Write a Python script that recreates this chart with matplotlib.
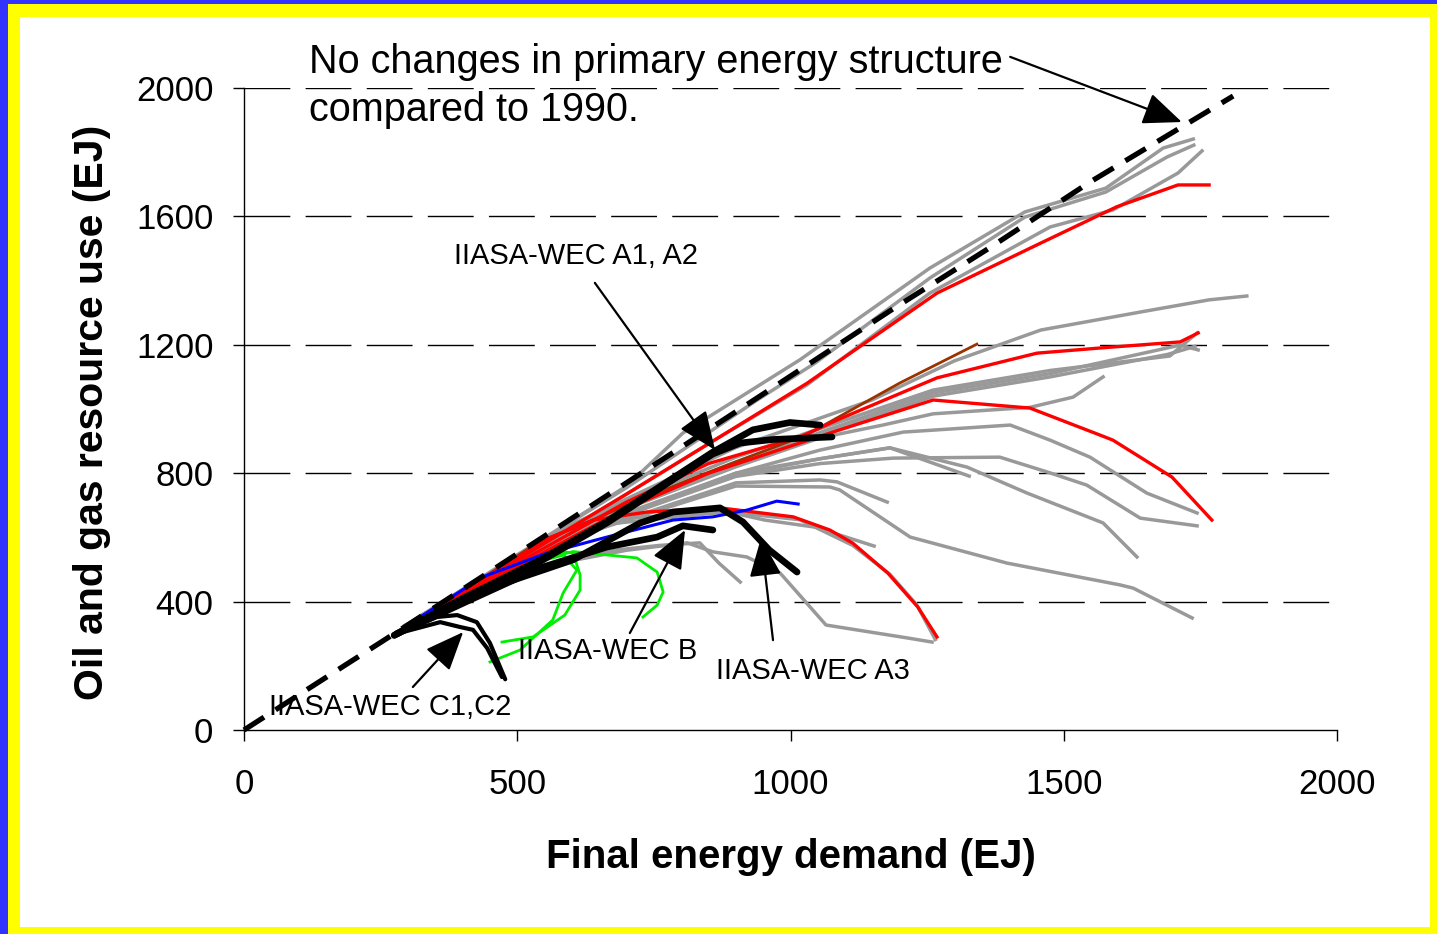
import matplotlib
matplotlib.use('Agg')
import matplotlib.pyplot as plt
from matplotlib.patches import Rectangle

plt.rcParams['font.family'] = ['Liberation Sans', 'DejaVu Sans']

# ---------------- data (EJ) ----------------
x_ticks = [0, 500, 1000, 1500, 2000]
y_ticks = [0, 400, 800, 1200, 1600, 2000]

# reference: no change in primary energy structure
ref_x = [0, 295, 953, 1184, 1367, 1548, 1810]
ref_y = [0, 322, 1050, 1308, 1505, 1707, 1975]

# IIASA-WEC scenarios (black)
a1_x = [275, 400, 542, 664, 785, 858, 931, 999, 1054]
a1_y = [295, 410, 530, 650, 785, 866, 935, 958, 950]
a2_x = [275, 400, 542, 664, 785, 858, 908, 968, 1076]
a2_y = [295, 408, 525, 645, 780, 860, 894, 905, 913]
a3_x = [280, 420, 602, 725, 785, 871, 913, 961, 1012]
a3_y = [300, 425, 530, 645, 679, 692, 648, 561, 492]
b_x = [280, 420, 542, 664, 756, 803, 858]
b_y = [300, 410, 505, 570, 601, 636, 623]
c1_x = [275, 353, 390, 426, 450, 478]
c1_y = [298, 352, 358, 336, 271, 158]
c2_x = [275, 359, 395, 419, 445, 472]
c2_y = [298, 336, 321, 312, 255, 165]

# green scenarios
g1_x = [300, 450, 542, 587, 602, 615, 615, 587, 529, 472]
g1_y = [325, 452, 530, 555, 551, 483, 436, 358, 290, 274]
g2_x = [300, 450, 540, 585, 609, 584, 565, 505, 450]
g2_y = [325, 448, 525, 545, 498, 427, 343, 249, 212]
g3_x = [300, 450, 540, 602, 719, 756, 767, 756, 730]
g3_y = [325, 450, 528, 556, 536, 492, 430, 389, 352]

# blue scenario
blue_x = [295, 437, 554, 664, 785, 858, 920, 975, 1014]
blue_y = [322, 477, 551, 601, 654, 664, 685, 713, 704]

# brown scenario
brown_x = [300, 530, 700, 830, 1030, 1200, 1341]
brown_y = [325, 575, 700, 790, 920, 1081, 1202]

# red scenarios
r1_x = [295, 500, 700, 858, 1030, 1268, 1458, 1597, 1709, 1766]
r1_y = [322, 530, 735, 900, 1080, 1361, 1517, 1630, 1698, 1698]
r2_x = [295, 500, 700, 850, 1017, 1090, 1268, 1451, 1566, 1713, 1746]
r2_y = [322, 520, 710, 830, 913, 969, 1097, 1174, 1190, 1209, 1237]
r3_x = [295, 500, 700, 850, 1017, 1090, 1261, 1438, 1566, 1590, 1698, 1771]
r3_y = [322, 510, 690, 800, 894, 935, 1028, 1003, 919, 903, 788, 654]
r4_x = [295, 440, 560, 639, 737, 871, 1005, 1072, 1114, 1178, 1233, 1268]
r4_y = [322, 475, 600, 654, 679, 692, 664, 623, 582, 489, 383, 290]

# other scenarios (grey)
gy01_x = [295, 500, 700, 803, 1017, 1255, 1429, 1577, 1682, 1737]
gy01_y = [325, 545, 760, 925, 1153, 1439, 1614, 1688, 1813, 1841]
gy02_x = [295, 500, 700, 939, 1045, 1255, 1429, 1577, 1689, 1738]
gy02_y = [325, 545, 755, 1028, 1143, 1408, 1598, 1676, 1785, 1822]
gy03_x = [295, 500, 700, 858, 1030, 1255, 1475, 1590, 1709, 1753]
gy03_y = [322, 530, 735, 900, 1075, 1361, 1567, 1620, 1735, 1804]
gy04_x = [295, 600, 900, 1149, 1300, 1458, 1640, 1766, 1835]
gy04_y = [325, 640, 880, 1028, 1150, 1246, 1302, 1340, 1352]
gy05_x = [295, 600, 900, 1261, 1475, 1694, 1744]
gy05_y = [325, 640, 850, 1059, 1120, 1165, 1237]
gy06_x = [295, 600, 900, 1261, 1475, 1713, 1746]
gy06_y = [325, 632, 835, 1050, 1110, 1199, 1184]
gy07_x = [295, 600, 900, 1261, 1475, 1690, 1740]
gy07_y = [325, 625, 825, 1040, 1100, 1170, 1195]
gy08_x = [295, 600, 900, 1054, 1169, 1261, 1438, 1517, 1572]
gy08_y = [325, 625, 820, 910, 950, 985, 1005, 1037, 1100]
gy09_x = [295, 600, 900, 1054, 1206, 1402, 1475, 1548, 1652, 1744]
gy09_y = [325, 615, 800, 872, 928, 950, 903, 850, 738, 676]
gy10_x = [295, 600, 900, 1054, 1188, 1383, 1475, 1542, 1640, 1744]
gy10_y = [325, 610, 790, 830, 847, 850, 801, 763, 660, 636]
gy11_x = [295, 600, 900, 1054, 1182, 1323, 1433, 1572, 1603, 1634]
gy11_y = [325, 610, 800, 845, 879, 819, 738, 645, 592, 539]
gy12_x = [295, 600, 900, 1054, 1182, 1327]
gy12_y = [325, 608, 795, 845, 879, 791]
gy13_x = [295, 600, 900, 1054, 1085, 1177]
gy13_y = [325, 600, 770, 779, 773, 710]
gy14_x = [295, 600, 900, 1072, 1090, 1219, 1396, 1603, 1627, 1735]
gy14_y = [325, 600, 760, 757, 748, 601, 520, 452, 442, 349]
gy15_x = [295, 500, 700, 811, 858, 920, 981, 1065, 1213, 1259]
gy15_y = [325, 495, 560, 583, 555, 539, 489, 327, 287, 274]
gy16_x = [295, 500, 650, 760, 834, 869, 908]
gy16_y = [325, 490, 555, 575, 583, 520, 461]
gy17_x = [295, 500, 700, 884, 953, 1045, 1153]
gy17_y = [325, 520, 660, 680, 654, 632, 573]
gy18_x = [295, 600, 884, 1017, 1114, 1182, 1231, 1265]
gy18_y = [325, 630, 680, 655, 575, 485, 390, 282]

ref_label = ["No changes in primary energy structure", "compared to 1990."]
scen_labels = ["IIASA-WEC A1, A2", "IIASA-WEC B", "IIASA-WEC A3", "IIASA-WEC C1,C2"]
x_label = "Final energy demand (EJ)"
y_label = "Oil and gas resource use (EJ)"

# ---------------- figure ----------------
W, H = 1437, 934
fig = plt.figure(figsize=(W / 100, H / 100), dpi=100)
fig.patch.set_facecolor('#3333FF')
fig.add_artist(Rectangle((8 / W, 0), 1 - 8 / W, 930 / H, transform=fig.transFigure,
                         facecolor='#FFFF00', edgecolor='none', zorder=-3))
fig.add_artist(Rectangle((20 / W, 7 / H), 1410 / W, 910 / H, transform=fig.transFigure,
                         facecolor='white', edgecolor='none', zorder=-2))

ax = fig.add_axes([244 / W, 1 - 730 / H, (1337 - 244) / W, (730 - 88) / H])
ax.set_facecolor('none')
ax.set_xlim(0, 2000)
ax.set_ylim(0, 2000)

for y in y_ticks[1:]:
    ax.axhline(y, color='black', lw=1.0, ls=(0, (33, 11)), zorder=1)

grey = '#999999'
greys = [(gy01_x, gy01_y), (gy02_x, gy02_y), (gy03_x, gy03_y), (gy04_x, gy04_y),
         (gy05_x, gy05_y), (gy06_x, gy06_y), (gy07_x, gy07_y), (gy08_x, gy08_y),
         (gy09_x, gy09_y), (gy10_x, gy10_y), (gy11_x, gy11_y), (gy12_x, gy12_y),
         (gy13_x, gy13_y), (gy14_x, gy14_y), (gy15_x, gy15_y), (gy16_x, gy16_y),
         (gy17_x, gy17_y), (gy18_x, gy18_y)]
for xs, ys in greys:
    ax.plot(xs, ys, color=grey, lw=2.5, zorder=2)

ax.plot(brown_x, brown_y, color='#993300', lw=2.0, zorder=3)
for xs, ys in [(r1_x, r1_y), (r2_x, r2_y), (r3_x, r3_y), (r4_x, r4_y)]:
    ax.plot(xs, ys, color='#FF0000', lw=2.4, zorder=3)
ax.plot(blue_x, blue_y, color='#0000FF', lw=2.2, zorder=3)
for xs, ys in [(g1_x, g1_y), (g2_x, g2_y), (g3_x, g3_y)]:
    ax.plot(xs, ys, color='#00EE00', lw=2.0, zorder=3)
for xs, ys in [(a1_x, a1_y), (a2_x, a2_y), (a3_x, a3_y), (b_x, b_y)]:
    ax.plot(xs, ys, color='black', lw=4.8, zorder=4, solid_capstyle='round')
for xs, ys in [(c1_x, c1_y), (c2_x, c2_y)]:
    ax.plot(xs, ys, color='black', lw=3.0, zorder=4, solid_capstyle='round')
ax.plot(ref_x, ref_y, color='black', lw=3.8, ls=(0, (4.5, 2.6)), zorder=5,
        dash_capstyle='butt', clip_on=False)

# spines and ticks
for s in ['top', 'right']:
    ax.spines[s].set_visible(False)
for s in ['left', 'bottom']:
    ax.spines[s].set_linewidth(1.0)
ax.set_xticks(x_ticks)
ax.set_yticks(y_ticks)
ax.tick_params(axis='x', direction='out', length=8, width=1, labelsize=25, pad=19)
ax.tick_params(axis='y', direction='out', length=8, width=1, labelsize=25, pad=14)

fig.text(791 / W, 1 - 857 / H, x_label, ha='center', va='center',
         fontsize=29, fontweight='bold')
fig.text(92 / W, 1 - 412 / H, y_label, ha='center', va='center', rotation=90,
         fontsize=29.5, fontweight='bold')

# reference annotation
fig.text(309 / W, 1 - 73 / H, ref_label[0], ha='left', va='baseline', fontsize=28.5)
fig.text(309 / W, 1 - 121 / H, ref_label[1], ha='left', va='baseline', fontsize=28.5)

arrow_kw = dict(arrowstyle='-|>,head_length=1.2,head_width=0.5', color='black',
                lw=1.6, shrinkA=0, shrinkB=0, mutation_scale=20)
ax.annotate('', xy=(1716, 1894), xytext=(1402, 2097), arrowprops=arrow_kw,
            annotation_clip=False, zorder=6)
ax.annotate('', xy=(862, 872), xytext=(642, 1393), arrowprops=arrow_kw, zorder=6)
ax.annotate('', xy=(807, 623), xytext=(706, 302), arrowprops=arrow_kw, zorder=6)
ax.annotate('', xy=(946, 598), xytext=(968, 280), arrowprops=arrow_kw, zorder=6)
ax.annotate('', xy=(401, 305), xytext=(309, 134), arrowprops=arrow_kw, zorder=6)

ax.text(607, 1477, scen_labels[0], ha='center', va='center', fontsize=21, zorder=6)
ax.text(666, 246, scen_labels[1], ha='center', va='center', fontsize=21, zorder=6)
ax.text(1041, 184, scen_labels[2], ha='center', va='center', fontsize=21, zorder=6)
ax.text(267, 72, scen_labels[3], ha='center', va='center', fontsize=21, zorder=6)

fig.savefig('out.png', dpi=100, facecolor=fig.get_facecolor())
